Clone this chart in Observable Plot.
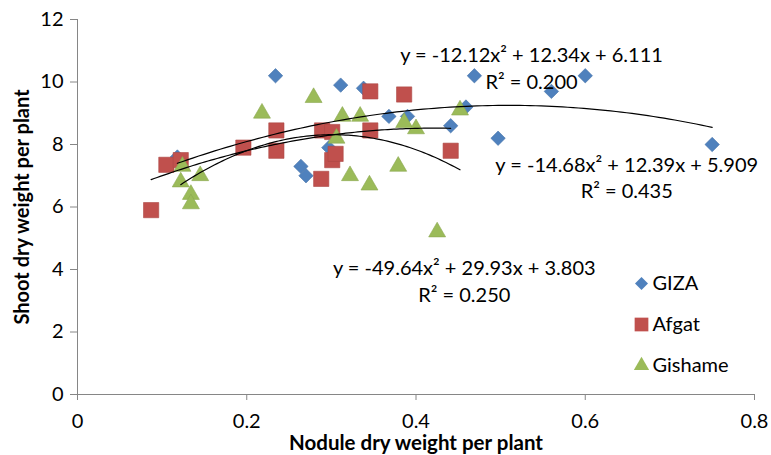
<!DOCTYPE html>
<html><head><meta charset="utf-8">
<script src="https://cdn.jsdelivr.net/npm/d3@7"></script>
<script src="https://cdn.jsdelivr.net/npm/@observablehq/plot@0.6"></script>
<style>body{margin:0;background:#fff}</style>
</head><body><div id="chart"></div>
<script>
const seriesNames = ["GIZA", "Afgat", "Gishame"];
const seriesColors = ["#4F81BD", "#C0504D", "#9BBB59"];
const seriesSymbols = ["diamond2", "square", "triangle"];

const gizaX = [0.118,0.234,0.264,0.270,0.297,0.311,0.338,0.368,0.390,0.441,0.459,0.469,0.497,0.560,0.600,0.750];
const gizaY = [7.6,10.2,7.3,7.0,7.9,9.9,9.8,8.9,8.9,8.6,9.2,10.2,8.2,9.7,10.2,8.0];

const afgatX = [0.087,0.105,0.122,0.196,0.235,0.235,0.288,0.289,0.301,0.301,0.305,0.346,0.346,0.386,0.441];
const afgatY = [5.9,7.35,7.5,7.9,8.45,7.8,6.9,8.45,8.4,7.5,7.7,8.45,9.7,9.6,7.8];

const gishameX = [0.122,0.124,0.134,0.134,0.145,0.218,0.279,0.306,0.313,0.322,0.334,0.345,0.379,0.386,0.400,0.425,0.452];
const gishameY = [6.8,7.3,6.4,6.1,7.0,9.0,9.5,8.2,8.9,7.0,8.9,6.7,7.3,8.7,8.5,5.2,9.1];

// trendline coefficients [a, b, c] for y = a x^2 + b x + c, as printed on the chart
const trendCoefs = [[-12.12, 12.34, 6.111], [-14.68, 12.39, 5.909], [-49.64, 29.93, 3.803]];
const trendEquations = ["y = -12.12x² + 12.34x + 6.111", "y = -14.68x² + 12.39x + 5.909", "y = -49.64x² + 29.93x + 3.803"];
const trendR2 = ["R² = 0.200", "R² = 0.435", "R² = 0.250"];
// label anchor positions (data units)
const labelX = [0.5365, 0.649, 0.457];
const labelY = [10.86, 7.34, 4.04];
const labelR2Y = [9.99, 6.48, 3.18];

const xTicks = [0, 0.2, 0.4, 0.6, 0.8];
const yTicks = [0, 2, 4, 6, 8, 10, 12];

const xs = [gizaX, afgatX, gishameX];
const ys = [gizaY, afgatY, gishameY];
const symbolR = [6.5, 8.6, 6.3];

const points = seriesNames.map((s, i) => xs[i].map((x, j) => ({series: s, x, y: ys[i][j]})));

const trends = seriesNames.map((s, i) => {
  const [lo, hi] = d3.extent(xs[i]);
  const [a, b, c] = trendCoefs[i];
  return d3.range(0, 101).map(k => {
    const x = lo + (hi - lo) * k / 100;
    return {series: s, x, y: a * x * x + b * x + c};
  });
});

const font = "Lato, 'Open Sans', sans-serif";
const fs = 20;
const marks = [];
marks.push(Plot.ruleY([0], {stroke: "#868686"}));
marks.push(Plot.ruleX([0], {stroke: "#868686"}));
marks.push(Plot.axisX({ticks: xTicks, tickSize: 6, stroke: "#868686", tickPadding: 13, fill: "#000", fontSize: fs, label: null, tickFormat: d => String(d)}));
marks.push(Plot.axisY({ticks: yTicks, tickSize: 7, stroke: "#868686", tickPadding: 7, fill: "#000", fontSize: fs, label: null}));
points.forEach((p, i) => {
  marks.push(Plot.dot(p, {x: "x", y: "y", symbol: () => seriesSymbols[i], r: symbolR[i], fill: seriesColors[i], stroke: d3.color(seriesColors[i]).darker(0.3).formatHex(), strokeWidth: 0.6}));
});
trends.forEach(t => marks.push(Plot.line(t, {x: "x", y: "y", stroke: "#000", strokeWidth: 1.2, curve: "linear"})));
seriesNames.forEach((s, i) => {
  marks.push(Plot.text([trendEquations[i]], {x: () => labelX[i], y: () => labelY[i], text: d => d, fill: "#000", fontSize: fs}));
  marks.push(Plot.text([trendR2[i]], {x: () => labelX[i], y: () => labelR2Y[i], text: d => d, fill: "#000", fontSize: fs}));
});
// legend
seriesNames.forEach((s, i) => {
  const dy = 264 + 41 * i;
  marks.push(Plot.dot([s], {frameAnchor: "top-right", dx: -113, dy, symbol: () => seriesSymbols[i], r: symbolR[i] * 0.9, fill: seriesColors[i]}));
  marks.push(Plot.text([s], {frameAnchor: "top-right", dx: -102, dy, text: d => d, textAnchor: "start", lineAnchor: "middle", fill: "#000", fontSize: fs}));
});
marks.push(Plot.text(["Nodule dry weight per plant"], {frameAnchor: "bottom", dy: 49, text: d => d, textAnchor: "middle", lineAnchor: "middle", fontWeight: "bold", fontSize: 20.5, fill: "#000"}));
marks.push(Plot.text(["Shoot dry weight per plant"], {frameAnchor: "left", dx: -55, rotate: -90, text: d => d, textAnchor: "middle", lineAnchor: "middle", fontWeight: "bold", fontSize: 20, fill: "#000"}));

const chart = Plot.plot({
  width: 771, height: 455,
  marginLeft: 77, marginRight: 17, marginTop: 19, marginBottom: 61,
  style: {fontFamily: font, fontSize: fs + "px", color: "#000", background: "#fff", overflow: "visible"},
  x: {domain: [0, 0.8]},
  y: {domain: [0, 12]},
  marks
});
document.getElementById("chart").appendChild(chart);
</script>
</body></html>
